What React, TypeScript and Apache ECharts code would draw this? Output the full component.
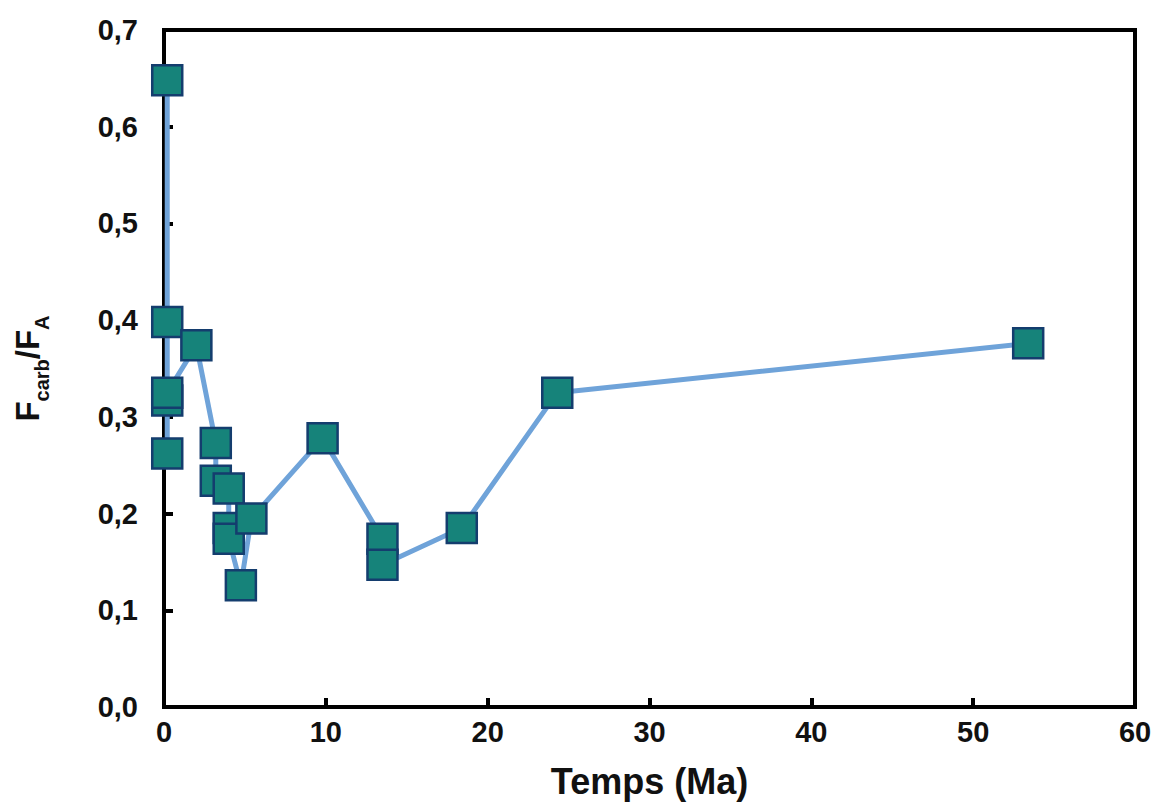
import React, { useEffect, useRef } from "react";
import * as echarts from "echarts";

const timeMa = [0.2, 0.2, 0.2, 0.2, 0.2, 2.0, 3.2, 3.2, 4.0, 4.0, 4.0, 4.75, 5.4, 9.8, 13.5, 13.5, 18.4, 24.3, 53.4];
const ratio = [0.648, 0.398, 0.262, 0.317, 0.325, 0.374, 0.273, 0.234, 0.226, 0.185, 0.174, 0.126, 0.195, 0.278, 0.174, 0.147, 0.185, 0.325, 0.376];
const yTicks = ["0,0", "0,1", "0,2", "0,3", "0,4", "0,5", "0,6", "0,7"];

export default function App() {
  const ref = useRef<HTMLDivElement>(null);
  useEffect(() => {
    if (!ref.current) return;
    const chart = echarts.init(ref.current, null, { renderer: "svg" });
    const data = timeMa.map((t, i) => [t, ratio[i]]);
    chart.setOption({
      animation: false,
      backgroundColor: "#ffffff",
      textStyle: { fontFamily: "Liberation Sans, Arial, sans-serif" },
      grid: {
        left: 164,
        top: 30,
        right: 22,
        bottom: 100,
        show: true,
        borderColor: "#000",
        borderWidth: 4,
        backgroundColor: "transparent",
      },
      xAxis: {
        type: "value",
        min: 0,
        max: 60,
        interval: 10,
        name: "Temps (Ma)",
        nameLocation: "middle",
        nameGap: 56,
        nameTextStyle: { fontSize: 36, fontWeight: "bold", color: "#111", fontFamily: "Liberation Sans, Arial" },
        axisLine: { show: true, lineStyle: { color: "#000", width: 4 } },
        axisTick: { show: true, inside: true, length: 9, lineStyle: { color: "#000", width: 4 } },
        axisLabel: { fontSize: 29, fontWeight: "bold", color: "#111", margin: 10, fontFamily: "Liberation Sans, Arial" },
        splitLine: { show: false },
      },
      yAxis: {
        type: "value",
        min: 0,
        max: 0.7,
        interval: 0.1,
        name: "{a|F}{b|carb}{a|/F}{b|A}",
        nameLocation: "middle",
        nameRotate: 90,
        nameGap: 120,
        nameTextStyle: {
          color: "#111",
          rich: {
            a: { fontSize: 33, fontWeight: "bold", color: "#111", fontFamily: "Liberation Sans, Arial", verticalAlign: "bottom" },
            b: { fontSize: 20, fontWeight: "bold", color: "#111", fontFamily: "Liberation Sans, Arial", verticalAlign: "bottom", padding: [0, 0, -8, 0] },
          },
        },
        axisLine: { show: true, lineStyle: { color: "#000", width: 4 } },
        axisTick: { show: true, inside: true, length: 9, lineStyle: { color: "#000", width: 4 } },
        axisLabel: {
          fontSize: 29,
          fontWeight: "bold",
          color: "#111",
          margin: 26,
          fontFamily: "Liberation Sans, Arial",
          formatter: (v: number) => yTicks[Math.round(v * 10)] ?? "",
        },
        splitLine: { show: false },
      },
      series: [
        {
          type: "line",
          data,
          symbol: "rect",
          symbolSize: 30,
          lineStyle: { color: "#6fa3d9", width: 5 },
          itemStyle: { color: "#16837a", borderColor: "#143d6e", borderWidth: 2.5 },
          z: 3,
        },
      ],
    });
    return () => chart.dispose();
  }, []);
  return <div ref={ref} style={{ width: 1157, height: 807, position: "absolute", left: 0, top: 0 }} />;
}
